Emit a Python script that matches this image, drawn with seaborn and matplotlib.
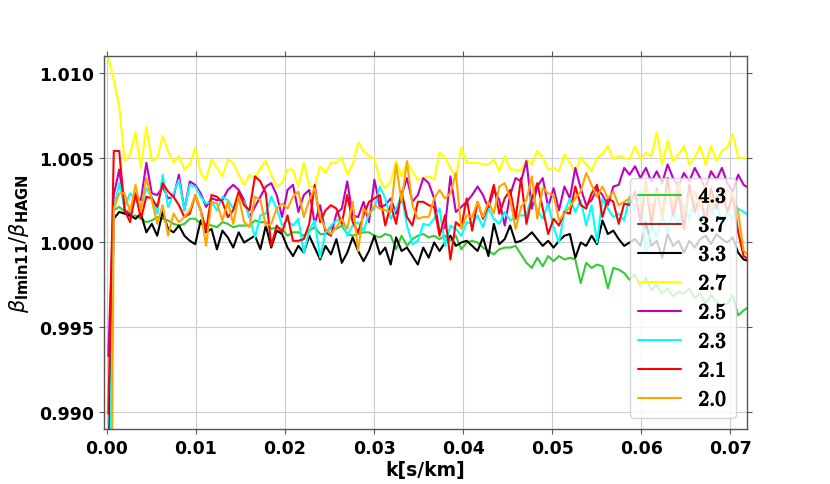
import numpy as np
import matplotlib
matplotlib.use("Agg")
import matplotlib.pyplot as plt
import matplotlib.patheffects as pe
import seaborn as sns
from matplotlib.font_manager import FontProperties
from matplotlib.ticker import MultipleLocator, FormatStrFormatter

# k bins (s/km): regular grid
k0 = 0.00015
dk = 0.00061
n_k = 119

# beta_lmin11 / beta_HAGN, stored as (ratio - 1) * 1e4
dev_43 = [np.nan, 19, 21, 18, 15, 16, 14, 12, 13, 15, 14, 13, 11, 10, 11, 14, 14, 11, 11, 10,
          9, 12, 11, 9, 10, 10, 10, 13, 12, 12,
          8, 9, 8, 4, 6, 6, 4, 7, 9, 5, 5, 9, 8, 10, 5, 4, 5, 6, 6, 4, 3, 5, 4, -4, 4, -2, 2, 4, 5,
          3, 4, 2, 4, 1, 4, -4, 0, 1, 0, -3, -5, -7, -4, -3, -3, -2, -7, -12, -15,
          -9, -14, -8, -11, -8, -10, -9, -10, -24, -12,
          -15, -13, -14, -27, -15, -16, -18, -22, -19, -26, -21, -28, -25, -30, -27,
          -32, -29, -30, -27, -33, -30, -36, -31, -35, -37, -36, -31, -43, -40, -38]
dev_37 = []
dev_33 = [-137, 14, 18, 17, 16, 14, 17, 6, 11, 4, 18, 8, 6, 10, 4, 1, -1, 13, 6, 8,
          -4, 7, 3, -3, 6, 0, 2, 4, -4, 10,
          -3, 7, 5, -3, -8, -2, -6, 4, -3, -10, -2, -7, 2, -12, -6, 3, -5, -11, -5, 4,
          -7, -3, -13, 3, -5, -3, -8, -13, -3,
          -9, 0, -5, 0, 4, -2, 0, 1, -2, -5, 3, -8, 11, -1, 2, 10, 0, 1, 3, 6,
          2, -2, 1, -3, 1, 4, 5, -9, 0, -2,
          4, -1, 13, 5, 7, 2, -2, 0, 2, -2, 12, -2, 1, -9, 5, -2, 1, -6, 1, -3,
          2, 4, -1, 5, 2, 0, 3, -6, -10, -11]
dev_27 = [109, 96, 80, 48, 52, 65, 44, 68, 48, 50, 63, 54, 47, 51, 43, 46, 56, 41, 37, 49,
          44, 39, 49, 47, 40, 34, 40, 38, 44, 48,
          40, 33, 35, 43, 43, 33, 47, 33, 33, 45, 41, 47, 47, 50, 40, 46, 59, 54, 51, 49,
          37, 32, 36, 48, 39, 47, 42, 37, 38,
          39, 37, 53, 50, 44, 38, 56, 47, 47, 47, 46, 46, 49, 42, 51, 43, 43, 42, 49, 46,
          54, 50, 43, 44, 42, 52, 47, 41, 50, 46,
          42, 50, 52, 57, 49, 51, 50, 49, 57, 49, 53, 51, 65, 46, 60, 48, 52, 57, 46, 50,
          57, 46, 57, 48, 54, 56, 64, 50, 50, 49]
dev_25 = [-67, 28, 43, 19, 17, 27, 25, 47, 29, 28, 33, 26, 27, 40, 19, 36, 34, 29, 21, 26,
          25, 25, 31, 34, 31, 25, 15, 21, 27, 33,
          35, 28, 15, 31, 34, 18, 28, 31, 11, 22, 6, 4, 17, 20, 36, 16, 15, 24, 12, 37,
          21, 22, 26, 17, 28, 38, 24, 28, 38,
          35, 26, 6, 9, 39, 18, 21, 24, 28, 33, 28, 20, 31, 25, 10, 28, 38, 36, 48, 20,
          33, 38, 21, 32, 19, 33, 26, 44, 32, 22,
          25, 32, 28, 22, 33, 34, 44, 40, 45, 38, 44, 36, 42, 35, 46, 38, 33, 41, 36, 44,
          38, 32, 42, 37, 44, 35, 30, 40, 34, 32]
dev_23 = [-197, 20, 35, 21, 29, 25, 21, 32, 27, 17, 40, 21, 29, 37, 19, 34, 33, 27, 23, 24,
          19, 27, 25, 20, 27, 24, 15, 3, 16, 17,
          27, 20, 10, 13, 10, 14, -6, 7, 13, -9, 6, 10, 13, 14, 4, 10, 12, 7, 17, 20,
          33, 26, 14, 20, 28, 10, -1, 1, 11,
          10, 14, 20, -2, 10, 8, 4, 12, 11, 16, 9, 20, 14, 11, 18, 13, 15, 16, 16, 28,
          19, 14, 23, 9, 0, 18, 26, 18, 25, 10,
          22, 0, 26, 20, 15, 17, 13, 27, 20, 30, -7, 10, 3, 16, 6, 18, 10, 22, 14, 25,
          12, 20, 15, 24, 10, 18, 14, 20, 18, 16]
dev_21 = [-101, 54, 54, 19, 12, 29, 14, 27, 26, 21, 35, 30, 27, 22, 15, 17, 28, 19, 7, 28,
          27, 24, 15, 19, 30, 22, 19, 39, 36, 29,
          -2, 10, 6, 16, 1, 1, 2, 11, 34, 12, 19, 22, 20, 11, 28, 12, 6, 16, 24, 26,
          28, 10, 22, 11, 30, 15, 10, 24, 24,
          22, 21, 4, 16, -10, 12, 9, 26, 7, 24, 14, 22, 34, 17, 26, 31, 14, 38, 11, 26,
          35, 20, 5, 14, 10, 18, 17, 33, 22, 20,
          29, 34, 15, 26, 24, 11, 23, 22, 30, 12, 36, 10, 32, 14, 38, 16, 30, 8, 34, 18,
          28, 12, 32, 20, 30, 18, 28, 6, -8, -10]
dev_20 = [-413, 20, 29, 29, 18, 34, 19, 38, 25, 11, 22, 4, 17, 12, 15, 19, 28, 19, -2, 24,
          23, 13, 24, 11, 27, 12, 9, 27, 25, 10,
          11, 20, 23, 20, 27, 30, 15, 25, 32, 15, 8, 5, 9, 14, 8, 24, -5, 20, 16, 22,
          20, 19, 18, 46, 24, 48, 22, 14, 15,
          15, 26, 31, 26, 29, 41, 8, 16, 15, 24, 15, 24, 17, 33, 35, 26, 8, 21, 25, 39,
          14, 32, 29, 28, 13, 17, 21, 26, 30, 41,
          34, 27, 33, 26, 30, 22, 24, 26, 26, 20, 35, 18, 30, 14, 32, 22, 36, 16, 28, 30,
          20, 34, 18, 28, 24, 31, 28, 18, -5, -8]

labels = ['4.3', '3.7', '3.3', '2.7', '2.5', '2.3', '2.1', '2.0']
colors = ['limegreen', 'brown', 'black', 'yellow', 'm', 'cyan', 'red', 'orange']
series = [dev_43, dev_37, dev_33, dev_27, dev_25, dev_23, dev_21, dev_20]

k = k0 + dk * np.arange(n_k)

sns.set_style('whitegrid', {'grid.color': '#cccccc', 'axes.edgecolor': '#555555',
                            'xtick.bottom': True, 'xtick.top': True,
                            'ytick.left': True, 'ytick.right': True})
plt.rcParams['font.family'] = ['DejaVu Sans']
plt.rcParams['text.color'] = 'black'
plt.rcParams['axes.labelcolor'] = 'black'

fig = plt.figure(figsize=(8.3, 4.85), dpi=100)
ax = fig.add_axes([0.1253, 0.1134, 0.7747, 0.7691])

for dev, lab, col in zip(series, labels, colors):
    if len(dev) == 0:
        ax.plot([], [], color=col, lw=1.5, label=r'$\mathbf{%s}$' % lab)
        continue
    ratio = 1.0 + np.array(dev, dtype=float) * 1e-4
    sns.lineplot(x=k, y=ratio, color=col, lw=1.5, ax=ax, label=r'$\mathbf{%s}$' % lab)

ax.set_xlim(-0.00034, 0.0719)
ax.set_ylim(0.989, 1.011)
ax.xaxis.set_major_locator(MultipleLocator(0.01))
ax.yaxis.set_major_locator(MultipleLocator(0.005))
ax.xaxis.set_major_formatter(FormatStrFormatter('%.2f'))
ax.yaxis.set_major_formatter(FormatStrFormatter('%.3f'))
ax.tick_params(axis='both', which='major', labelsize=12.5, direction='out', length=3.5,
               width=0.8, color='#555555', labelcolor='black', top=True, right=True)
ax.grid(True, color='#cccccc', lw=0.8)
for s in ax.spines.values():
    s.set_color('#555555')
    s.set_linewidth(1.0)

ax.set_xlabel('k[s/km]', fontsize=13.5, fontweight='bold', labelpad=2)
ax.set_ylabel(r'$\beta_{\mathbf{lmin11}}/\beta_{\mathbf{HAGN}}$', fontsize=15, labelpad=6)

prop = FontProperties(size=15.5, math_fontfamily='cm')
leg = ax.legend(loc='lower right', prop=prop, framealpha=0.8, handlelength=2.0,
                labelspacing=0.42, borderaxespad=0.5)
for t in leg.get_texts():
    t.set_path_effects([pe.withStroke(linewidth=0.7, foreground='black')])

plt.setp(ax.get_xticklabels(), fontweight='bold')
plt.setp(ax.get_yticklabels(), fontweight='bold')

fig.savefig('out.png', dpi=100)
